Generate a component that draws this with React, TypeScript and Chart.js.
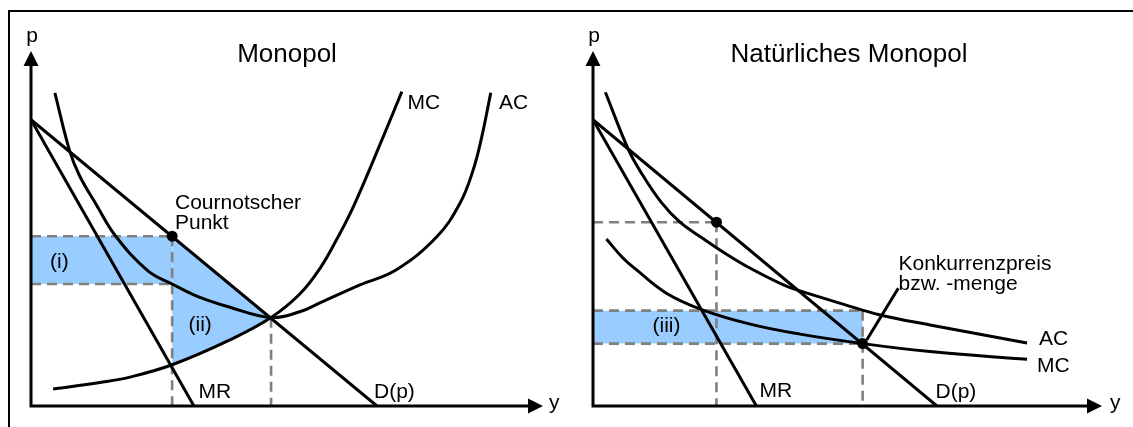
import React, { useEffect, useRef } from "react";
import { Chart, registerables } from "chart.js";

Chart.register(...registerables);

const FONT = '"Liberation Sans", Arial, Helvetica, sans-serif';

// shared axis ranges (quantity y on x-axis, price p on y-axis)
const X_MAX = 14.8;
const Y_MAX = 12.4;

// ---------- Panel 1: Monopol ----------
const M_DEMAND_X = [0, 10];
const M_DEMAND_Y = [10, 0];
const M_MR_X = [0, 4.71];
const M_MR_Y = [10, 0];
const M_AC_X = [0.69, 1.11, 1.4, 1.88, 2.45, 3.38, 4.08, 4.79, 5.75, 6.94, 7.77, 8.35, 9.51, 10.55, 11.73, 12.4, 12.78, 13.03, 13.29];
const M_AC_Y = [10.94, 8.94, 8.05, 7.05, 5.93, 4.72, 4.26, 3.84, 3.45, 3.09, 3.29, 3.6, 4.23, 4.75, 5.91, 7.08, 8.24, 9.4, 10.94];
const M_MC_X = [0.64, 1.99, 2.86, 4.08, 5.75, 6.94, 7.77, 8.35, 8.85, 9.34, 10.18, 10.72];
const M_MC_Y = [0.59, 0.82, 1.01, 1.44, 2.31, 3.09, 3.91, 4.8, 5.85, 7.02, 9.4, 10.98];
const M_COURNOT = [4.08, 5.93];
const M_AC_AT_COURNOT = 4.26;
const M_CROSS = [6.94, 3.08];

// ---------- Panel 2: Natürliches Monopol ----------
const N_DEMAND_X = [0, 10];
const N_DEMAND_Y = [10, 0];
const N_MR_X = [0, 4.75];
const N_MR_Y = [10, 0];
const N_AC_X = [0.36, 1.02, 1.4, 1.98, 2.53, 3.2, 3.86, 4.56, 5.52, 6.02, 7.27, 8.35, 9.8, 12.62];
const N_AC_Y = [10.96, 8.98, 8.15, 7.12, 6.42, 5.85, 5.32, 4.82, 4.24, 4.02, 3.56, 3.18, 2.83, 2.2];
const N_MC_X = [0.39, 0.87, 1.25, 2.12, 3.2, 4.57, 6.02, 7.84, 9.8, 12.62];
const N_MC_Y = [5.83, 5.17, 4.77, 3.95, 3.35, 2.86, 2.51, 2.18, 1.9, 1.63];
const N_MONOPOLY = [3.59, 6.42];
const N_COMPETITIVE = [7.84, 2.18];
const N_AREA_TOP = 3.33;

const BLUE = "#99ccff";
const GRAY = "#808080";
const TRANSPARENT = "rgba(0,0,0,0)";

const pts = (xs: number[], ys: number[]) => xs.map((x, i) => ({ x, y: ys[i] }));

const curve = (data: any[], smooth: boolean) => ({
  data,
  borderColor: "#000",
  borderWidth: 3,
  pointRadius: 0,
  fill: false,
  tension: smooth ? 0.4 : 0,
  borderCapStyle: "butt",
  borderJoinStyle: "round",
  order: 1,
});

const dashed = (data: any[]) => ({
  data,
  borderColor: GRAY,
  borderWidth: 2.6,
  borderDash: [10, 6],
  pointRadius: 0,
  fill: false,
  tension: 0,
  order: 2,
});

const filled = (data: any[], fill: any) => ({
  data,
  borderColor: TRANSPARENT,
  borderWidth: 0,
  backgroundColor: BLUE,
  pointRadius: 0,
  fill,
  tension: 0,
  order: 3,
});

const dots = (data: any[]) => ({
  data,
  showLine: false,
  pointRadius: 5.5,
  pointHoverRadius: 5.5,
  pointBackgroundColor: "#000",
  pointBorderColor: "#000",
  pointBorderWidth: 0,
  borderColor: "#000",
  fill: false,
  order: 0,
  clip: false,
});

type Label = { t: string; x: number; y: number; center?: boolean };

function decor(title: string, titleX: number, labels: Label[], leaders: number[][]) {
  return {
    id: "decor",
    afterDatasetsDraw(chart: any) {
      const { ctx, chartArea: a } = chart;
      ctx.save();
      ctx.strokeStyle = "#000";
      ctx.fillStyle = "#000";
      ctx.lineWidth = 3;
      ctx.setLineDash([]);
      ctx.beginPath();
      ctx.moveTo(a.left, a.bottom + 1.5);
      ctx.lineTo(a.left, a.top + 14);
      ctx.moveTo(a.left - 1.5, a.bottom);
      ctx.lineTo(a.right - 14, a.bottom);
      ctx.stroke();
      ctx.beginPath();
      ctx.moveTo(a.left, a.top);
      ctx.lineTo(a.left - 7.5, a.top + 15);
      ctx.lineTo(a.left + 7.5, a.top + 15);
      ctx.closePath();
      ctx.fill();
      ctx.beginPath();
      ctx.moveTo(a.right, a.bottom);
      ctx.lineTo(a.right - 15, a.bottom - 7.5);
      ctx.lineTo(a.right - 15, a.bottom + 7.5);
      ctx.closePath();
      ctx.fill();
      ctx.lineWidth = 3;
      for (const l of leaders) {
        ctx.beginPath();
        ctx.moveTo(l[0], l[1]);
        ctx.lineTo(l[2], l[3]);
        ctx.stroke();
      }
      ctx.textBaseline = "alphabetic";
      ctx.font = `26px ${FONT}`;
      ctx.textAlign = "center";
      ctx.fillText(title, titleX, 62);
      ctx.font = `21px ${FONT}`;
      for (const l of labels) {
        ctx.textAlign = l.center ? "center" : "left";
        ctx.fillText(l.t, l.x, l.y);
      }
      ctx.restore();
    },
  };
}

function buildConfig(datasets: any[], padding: any, plugin: any): any {
  return {
    type: "line",
    data: { datasets },
    options: {
      responsive: false,
      animation: false,
      events: [],
      layout: { padding },
      scales: {
        x: { type: "linear", display: false, min: 0, max: X_MAX },
        y: { type: "linear", display: false, min: 0, max: Y_MAX },
      },
      plugins: {
        legend: { display: false },
        tooltip: { enabled: false },
        title: { display: false },
        filler: { propagate: false },
      },
    },
    plugins: [plugin],
  };
}

function monopolConfig() {
  const datasets = [
    curve(pts(M_MC_X, M_MC_Y), true), // 0: MC (fill target)
    curve(pts(M_AC_X, M_AC_Y), true),
    curve(pts(M_DEMAND_X, M_DEMAND_Y), false),
    curve(pts(M_MR_X, M_MR_Y), false),
    filled(
      [
        { x: 0, y: M_COURNOT[1] },
        { x: M_COURNOT[0], y: M_COURNOT[1] },
      ],
      { value: M_AC_AT_COURNOT }
    ),
    filled(
      [
        { x: M_COURNOT[0], y: M_COURNOT[1] },
        { x: M_CROSS[0], y: M_CROSS[1] },
      ],
      0
    ),
    dashed([
      { x: 0, y: M_COURNOT[1] },
      { x: M_COURNOT[0], y: M_COURNOT[1] },
    ]),
    dashed([
      { x: 0, y: M_AC_AT_COURNOT },
      { x: M_COURNOT[0], y: M_AC_AT_COURNOT },
    ]),
    dashed([
      { x: M_COURNOT[0], y: M_COURNOT[1] },
      { x: M_COURNOT[0], y: 0 },
    ]),
    dashed([
      { x: M_CROSS[0], y: M_CROSS[1] },
      { x: M_CROSS[0], y: 0 },
    ]),
    dots([{ x: M_COURNOT[0], y: M_COURNOT[1] }]),
  ];
  const labels: Label[] = [
    { t: "p", x: 32, y: 42, center: true },
    { t: "y", x: 549, y: 409 },
    { t: "MC", x: 407.5, y: 109 },
    { t: "AC", x: 499, y: 109 },
    { t: "Cournotscher", x: 175, y: 209 },
    { t: "Punkt", x: 175, y: 229 },
    { t: "(i)", x: 50, y: 268 },
    { t: "(ii)", x: 188.5, y: 331 },
    { t: "MR", x: 198.5, y: 398 },
    { t: "D(p)", x: 374, y: 398 },
  ];
  return buildConfig(
    datasets,
    { left: 31, right: 23, top: 51, bottom: 21 },
    decor("Monopol", 287, labels, [])
  );
}

function natuerlichConfig() {
  const datasets = [
    curve(pts(N_MC_X, N_MC_Y), true),
    curve(pts(N_AC_X, N_AC_Y), true),
    curve(pts(N_DEMAND_X, N_DEMAND_Y), false),
    curve(pts(N_MR_X, N_MR_Y), false),
    filled(
      [
        { x: 0, y: N_AREA_TOP },
        { x: N_COMPETITIVE[0], y: N_AREA_TOP },
      ],
      { value: N_COMPETITIVE[1] }
    ),
    dashed([
      { x: 0, y: N_MONOPOLY[1] },
      { x: N_MONOPOLY[0], y: N_MONOPOLY[1] },
    ]),
    dashed([
      { x: N_MONOPOLY[0], y: N_MONOPOLY[1] },
      { x: N_MONOPOLY[0], y: 0 },
    ]),
    dashed([
      { x: 0, y: N_AREA_TOP },
      { x: N_COMPETITIVE[0], y: N_AREA_TOP },
    ]),
    dashed([
      { x: 0, y: N_COMPETITIVE[1] },
      { x: N_COMPETITIVE[0], y: N_COMPETITIVE[1] },
    ]),
    dashed([
      { x: N_COMPETITIVE[0], y: N_AREA_TOP },
      { x: N_COMPETITIVE[0], y: 0 },
    ]),
    dots([
      { x: N_MONOPOLY[0], y: N_MONOPOLY[1] },
      { x: N_COMPETITIVE[0], y: N_COMPETITIVE[1] },
    ]),
  ];
  const labels: Label[] = [
    { t: "p", x: 28, y: 42, center: true },
    { t: "y", x: 544, y: 409 },
    { t: "AC", x: 473, y: 345 },
    { t: "MC", x: 471, y: 372 },
    { t: "(iii)", x: 86.5, y: 332 },
    { t: "MR", x: 193.5, y: 397 },
    { t: "D(p)", x: 369.5, y: 398 },
    { t: "Konkurrenzpreis", x: 332.5, y: 270 },
    { t: "bzw. -menge", x: 332.5, y: 290 },
  ];
  return buildConfig(
    datasets,
    { left: 27, right: 31, top: 51, bottom: 21 },
    decor("Natürliches Monopol", 283, labels, [[300.7, 340, 332.3, 288.3]])
  );
}

function Panel({ make, left, width }: { make: () => any; left: number; width: number }) {
  const ref = useRef<HTMLCanvasElement>(null);
  useEffect(() => {
    const chart = new Chart(ref.current as HTMLCanvasElement, make());
    return () => chart.destroy();
  }, []);
  return (
    <canvas
      ref={ref}
      width={width}
      height={427}
      style={{ position: "absolute", left, top: 0, width, height: 427 }}
    />
  );
}

export default function App() {
  return (
    <div
      style={{
        position: "absolute",
        left: 0,
        top: 0,
        width: 1133,
        height: 427,
        overflow: "hidden",
        background: "#fff",
      }}
    >
      <div
        style={{
          position: "absolute",
          left: 8,
          top: 10,
          width: 1300,
          height: 600,
          borderLeft: "2px solid #000",
          borderTop: "2px solid #000",
        }}
      />
      <Panel make={monopolConfig} left={0} width={566} />
      <Panel make={natuerlichConfig} left={566} width={567} />
    </div>
  );
}
